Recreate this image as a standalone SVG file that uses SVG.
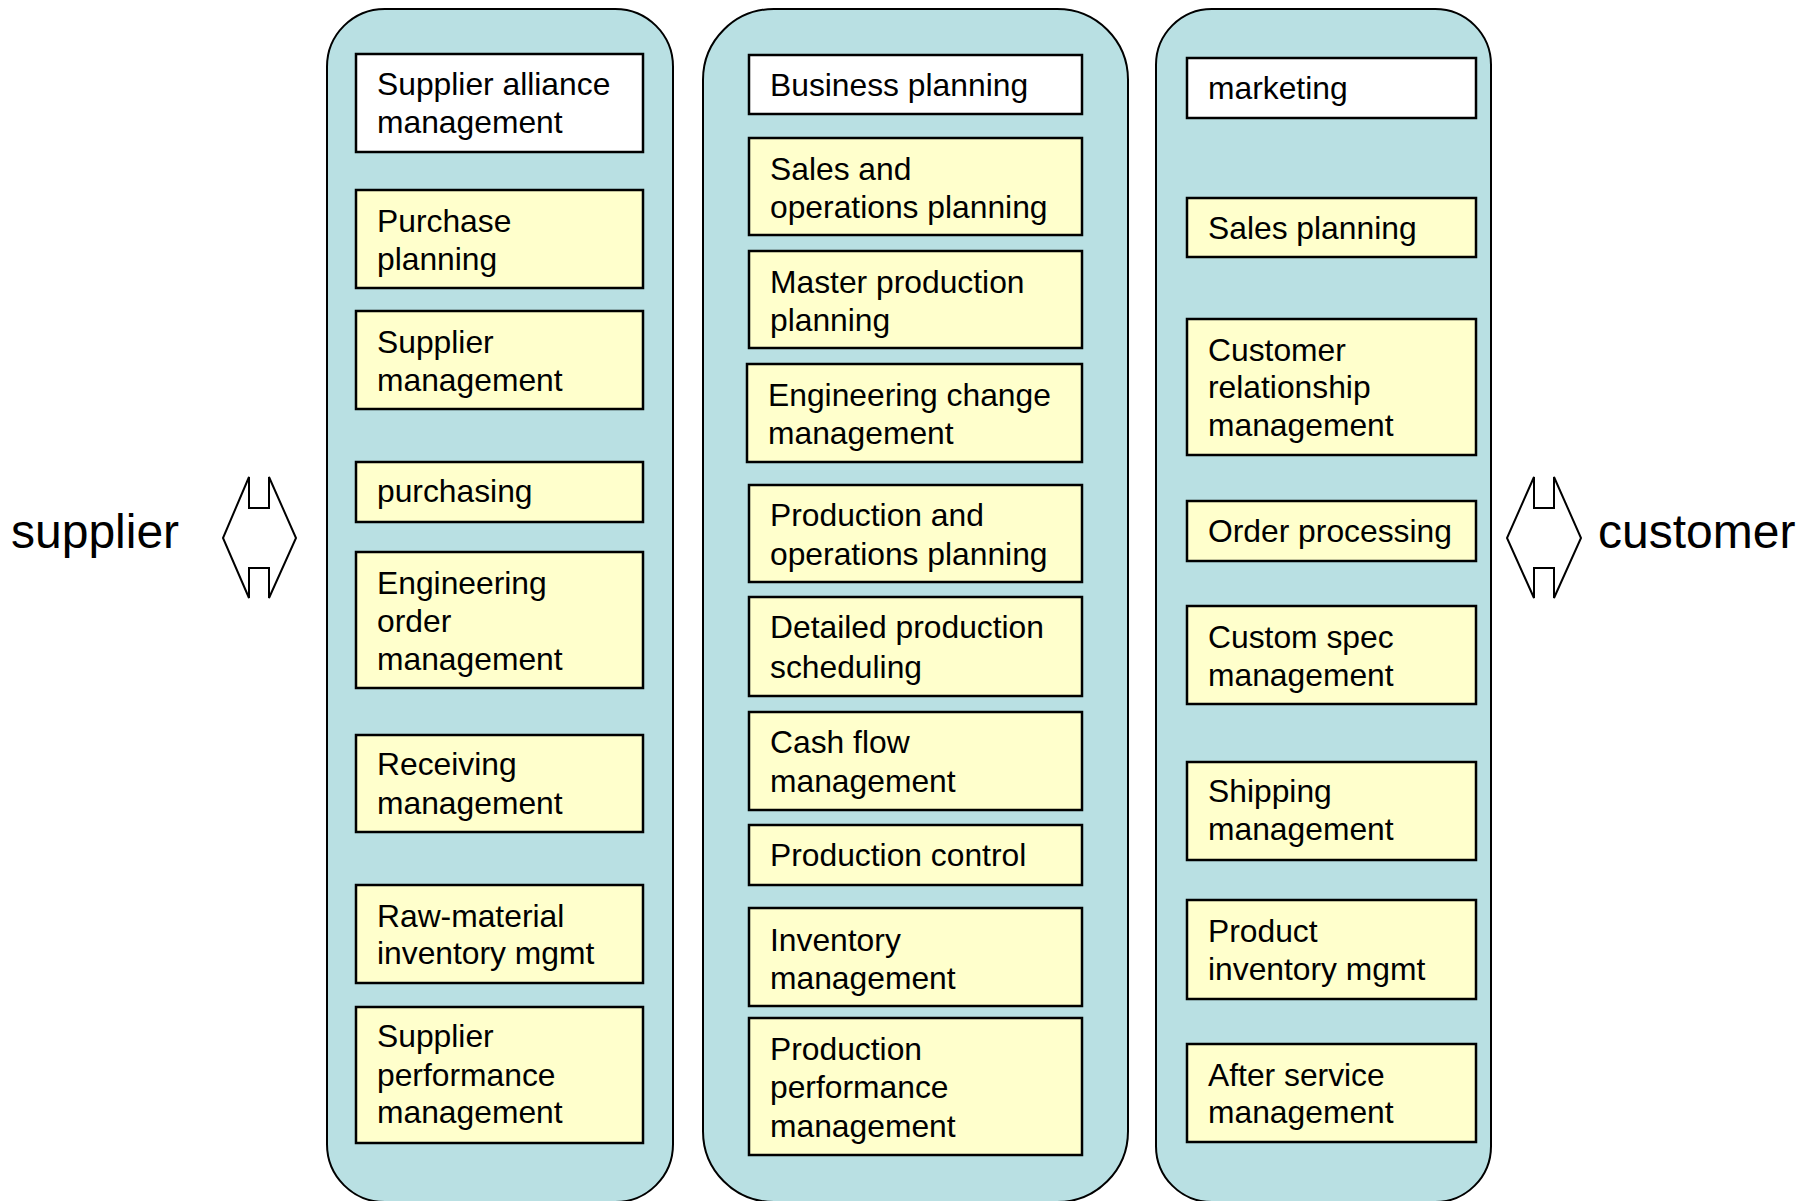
<svg xmlns="http://www.w3.org/2000/svg" width="1814" height="1201" viewBox="0 0 1814 1201">
<style>
.cont{fill:#B9E0E3;stroke:#000;stroke-width:2}
.box{fill:#FFFFCC;stroke:#000;stroke-width:2.5}
.wbox{fill:#FFFFFF;stroke:#000;stroke-width:2.5}
.t{font-family:"Liberation Sans",Arial,sans-serif;font-size:31.8px;fill:#000}
.big{font-family:"Liberation Sans",Arial,sans-serif;font-size:48px;fill:#000}
.arr{fill:#FFFFFF;stroke:#000;stroke-width:2;stroke-linejoin:miter}
</style>
<rect width="1814" height="1201" fill="#FFFFFF"/>
<g id="containers">
<rect id="col-supplier" class="cont" x="327" y="9" width="346" height="1193" rx="57.7" ry="57.7"/>
<rect id="col-production" class="cont" x="703" y="9" width="425" height="1193" rx="70.8" ry="70.8"/>
<rect id="col-customer" class="cont" x="1156" y="9" width="335" height="1193" rx="55.8" ry="55.8"/>
</g>
<g id="label-supplier"><text class="big" x="11" y="548">supplier</text></g>
<g id="label-customer"><text class="big" x="1598" y="548">customer</text></g>
<g id="connectors">
<path class="arr" d="M249,477 L249,508 L269,508 L269,477 L296,538 L269,598 L269,568 L249,568 L249,598 L223,538 Z"/>
<path class="arr" d="M1534,477 L1534,508 L1554,508 L1554,477 L1581,538 L1554,598 L1554,568 L1534,568 L1534,598 L1507,538 Z"/>
</g>
<!-- Left column -->
<g id="n-supplier-alliance"><rect class="wbox" x="356" y="54" width="287" height="98"/><text class="t"><tspan x="377" y="95">Supplier alliance</tspan><tspan x="377" y="133">management</tspan></text></g>
<g id="n-purchase-planning"><rect class="box" x="356" y="190" width="287" height="98"/><text class="t"><tspan x="377" y="232">Purchase</tspan><tspan x="377" y="270">planning</tspan></text></g>
<g id="n-supplier-mgmt"><rect class="box" x="356" y="311" width="287" height="98"/><text class="t"><tspan x="377" y="353">Supplier</tspan><tspan x="377" y="391">management</tspan></text></g>
<g id="n-purchasing"><rect class="box" x="356" y="462" width="287" height="60"/><text class="t"><tspan x="377" y="502">purchasing</tspan></text></g>
<g id="n-eng-order"><rect class="box" x="356" y="552" width="287" height="136"/><text class="t"><tspan x="377" y="594">Engineering</tspan><tspan x="377" y="632">order</tspan><tspan x="377" y="670">management</tspan></text></g>
<g id="n-receiving"><rect class="box" x="356" y="735" width="287" height="97"/><text class="t"><tspan x="377" y="775">Receiving</tspan><tspan x="377" y="814">management</tspan></text></g>
<g id="n-raw-material"><rect class="box" x="356" y="885" width="287" height="98"/><text class="t"><tspan x="377" y="927">Raw-material</tspan><tspan x="377" y="964">inventory mgmt</tspan></text></g>
<g id="n-supplier-perf"><rect class="box" x="356" y="1007" width="287" height="136"/><text class="t"><tspan x="377" y="1047">Supplier</tspan><tspan x="377" y="1086">performance</tspan><tspan x="377" y="1123">management</tspan></text></g>
<!-- Middle column -->
<g id="n-business-planning"><rect class="wbox" x="749" y="55" width="333" height="59"/><text class="t"><tspan x="770" y="96">Business planning</tspan></text></g>
<g id="n-sop"><rect class="box" x="749" y="138" width="333" height="97"/><text class="t"><tspan x="770" y="180">Sales and</tspan><tspan x="770" y="218">operations planning</tspan></text></g>
<g id="n-mps"><rect class="box" x="749" y="251" width="333" height="97"/><text class="t"><tspan x="770" y="293">Master production</tspan><tspan x="770" y="331">planning</tspan></text></g>
<g id="n-eng-change"><rect class="box" x="747" y="364" width="335" height="98"/><text class="t"><tspan x="768" y="406">Engineering change</tspan><tspan x="768" y="444">management</tspan></text></g>
<g id="n-pop"><rect class="box" x="749" y="485" width="333" height="97"/><text class="t"><tspan x="770" y="526">Production and</tspan><tspan x="770" y="565">operations planning</tspan></text></g>
<g id="n-detailed-sched"><rect class="box" x="749" y="597" width="333" height="99"/><text class="t"><tspan x="770" y="638">Detailed production</tspan><tspan x="770" y="678">scheduling</tspan></text></g>
<g id="n-cash-flow"><rect class="box" x="749" y="712" width="333" height="98"/><text class="t"><tspan x="770" y="753">Cash flow</tspan><tspan x="770" y="792">management</tspan></text></g>
<g id="n-prod-control"><rect class="box" x="749" y="825" width="333" height="60"/><text class="t"><tspan x="770" y="866">Production control</tspan></text></g>
<g id="n-inventory"><rect class="box" x="749" y="908" width="333" height="98"/><text class="t"><tspan x="770" y="951">Inventory</tspan><tspan x="770" y="989">management</tspan></text></g>
<g id="n-prod-perf"><rect class="box" x="749" y="1018" width="333" height="137"/><text class="t"><tspan x="770" y="1060">Production</tspan><tspan x="770" y="1098">performance</tspan><tspan x="770" y="1137">management</tspan></text></g>
<!-- Right column -->
<g id="n-marketing"><rect class="wbox" x="1187" y="58" width="289" height="60"/><text class="t"><tspan x="1208" y="99">marketing</tspan></text></g>
<g id="n-sales-planning"><rect class="box" x="1187" y="198" width="289" height="59"/><text class="t"><tspan x="1208" y="239">Sales planning</tspan></text></g>
<g id="n-crm"><rect class="box" x="1187" y="319" width="289" height="136"/><text class="t"><tspan x="1208" y="361">Customer</tspan><tspan x="1208" y="398">relationship</tspan><tspan x="1208" y="436">management</tspan></text></g>
<g id="n-order-processing"><rect class="box" x="1187" y="501" width="289" height="60"/><text class="t"><tspan x="1208" y="542">Order processing</tspan></text></g>
<g id="n-custom-spec"><rect class="box" x="1187" y="606" width="289" height="98"/><text class="t"><tspan x="1208" y="648">Custom spec</tspan><tspan x="1208" y="686">management</tspan></text></g>
<g id="n-shipping"><rect class="box" x="1187" y="762" width="289" height="98"/><text class="t"><tspan x="1208" y="802">Shipping</tspan><tspan x="1208" y="840">management</tspan></text></g>
<g id="n-product-inventory"><rect class="box" x="1187" y="900" width="289" height="99"/><text class="t"><tspan x="1208" y="942">Product</tspan><tspan x="1208" y="980">inventory mgmt</tspan></text></g>
<g id="n-after-service"><rect class="box" x="1187" y="1044" width="289" height="98"/><text class="t"><tspan x="1208" y="1086">After service</tspan><tspan x="1208" y="1123">management</tspan></text></g>
</svg>
